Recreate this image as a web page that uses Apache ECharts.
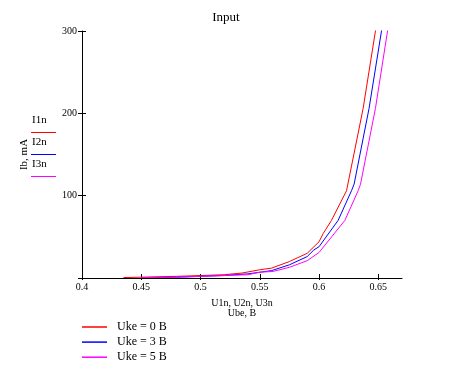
<!DOCTYPE html>
<html>
<head>
<meta charset="utf-8">
<script src="https://cdn.jsdelivr.net/npm/echarts@6/dist/echarts.min.js"></script>
<style>
html, body { margin: 0; padding: 0; background: #fff; }
#chart { width: 452px; height: 378px; }
</style>
</head>
<body>
<div id="chart"></div>
<script>
// Ube, B  /  Ib, mA
var seriesNames = ['Uke = 0 B', 'Uke = 3 B', 'Uke = 5 B']
var colors = ['#ff0000', '#0000ff', '#ff00ff']

var u1 = [0.435, 0.45, 0.48, 0.5, 0.52, 0.535, 0.55, 0.56, 0.575, 0.59, 0.6, 0.6035, 0.6105, 0.6232, 0.6372, 0.6476, 0.652]
var i1 = [0.5, 1, 2, 3, 4, 6, 10, 12, 20, 30, 44, 54, 70, 106, 206, 300, 335]

var u2 = [0.45, 0.48, 0.5, 0.52, 0.54, 0.55, 0.56, 0.575, 0.59, 0.5956, 0.6, 0.6161, 0.6274, 0.6296, 0.6422, 0.6527, 0.657]
var i2 = [0.5, 1, 2, 3, 5, 7, 9, 16, 26, 34, 38, 70, 106, 114, 206, 300, 340]

var u3 = [0.45, 0.48, 0.5, 0.52, 0.54, 0.55, 0.5613, 0.575, 0.59, 0.6, 0.6013, 0.6218, 0.633, 0.635, 0.6476, 0.6578, 0.661]
var i3 = [0.5, 1, 2, 3, 4, 7, 8, 13, 21, 31, 33, 70, 106, 114, 206, 300, 330]

var xTicks = [0.4, 0.45, 0.5, 0.55, 0.6, 0.65]
var yTicks = [0, 100, 200, 300]
var leftNames = ['I1n', 'I2n', 'I3n']

var font = 'Liberation Serif'

function pairs(u, i) {
    var out = []
    for (var k = 0; k < u.length; k++) out.push([u[k], i[k]])
    return out
}

var chart = echarts.init(document.getElementById('chart'))

var xBase = {
    type: 'value', min: 0.4, max: 0.67,
    splitLine: { show: false }
}
var yBase = {
    type: 'value', min: 0, max: 300,
    splitLine: { show: false }
}

var graphics = []
for (var n = 0; n < leftNames.length; n++) {
    graphics.push({
        type: 'text', left: 32, top: 115 + n * 22,
        style: { text: leftNames[n], font: '11px ' + font, fill: '#000' }
    })
    graphics.push({
        type: 'line', shape: { x1: 31, y1: 132.5 + n * 22, x2: 56, y2: 132.5 + n * 22 },
        style: { stroke: colors[n], lineWidth: 1 }
    })
}

var series = []
var us = [u1, u2, u3], is = [i1, i2, i3]
for (var s = 0; s < 3; s++) {
    series.push({
        name: seriesNames[s], type: 'line',
        data: pairs(us[s], is[s]),
        symbol: 'none', clip: true,
        lineStyle: { color: colors[s], width: 1 },
        itemStyle: { color: colors[s] },
        animation: false
    })
}

var option = {
    animation: false,
    title: {
        text: 'Input', left: 'center', top: 11, padding: 0,
        textStyle: { fontFamily: font, fontSize: 13, fontWeight: 'normal', color: '#000' }
    },
    grid: { left: 82, right: 50, top: 31, bottom: 100 },
    legend: {
        orient: 'vertical', left: 82, top: 321, padding: 0,
        icon: 'rect', itemWidth: 25, itemHeight: 1.5, itemGap: 3.1,
        data: seriesNames,
        textStyle: { fontFamily: font, fontSize: 12, color: '#000', padding: [0, 0, 0, 5] }
    },
    xAxis: [
        Object.assign({}, xBase, {
            name: 'U1n, U2n, U3n\nUbe, B', nameLocation: 'middle', nameGap: 20,
            nameTextStyle: { fontFamily: font, fontSize: 10, lineHeight: 10, color: '#000' },
            axisLine: { lineStyle: { color: '#000', width: 1 } },
            axisTick: { length: 2, customValues: xTicks, lineStyle: { color: '#000' } },
            axisLabel: {
                customValues: xTicks, margin: 4,
                fontFamily: font, fontSize: 10, color: '#000'
            }
        }),
        Object.assign({}, xBase, {
            position: 'bottom',
            axisLine: { show: false },
            axisTick: { inside: true, length: 4, customValues: xTicks, lineStyle: { color: '#000' } },
            axisLabel: { show: false }
        })
    ],
    yAxis: [
        Object.assign({}, yBase, {
            name: 'Ib, mA', nameLocation: 'middle', nameGap: 52,
            nameTextStyle: { fontFamily: font, fontSize: 11, color: '#000' },
            axisLine: { lineStyle: { color: '#000', width: 1 } },
            axisTick: { length: 4, customValues: yTicks, lineStyle: { color: '#000' } },
            axisLabel: {
                customValues: yTicks, margin: 5,
                fontFamily: font, fontSize: 10, color: '#000',
                formatter: function(v) { return v == 0 ? '' : v }
            }
        }),
        Object.assign({}, yBase, {
            position: 'left',
            axisLine: { show: false },
            axisTick: { inside: true, length: 4, customValues: [100, 200, 300], lineStyle: { color: '#000' } },
            axisLabel: { show: false }
        })
    ],
    graphic: graphics,
    series: series
}

chart.setOption(option)
</script>
</body>
</html>
